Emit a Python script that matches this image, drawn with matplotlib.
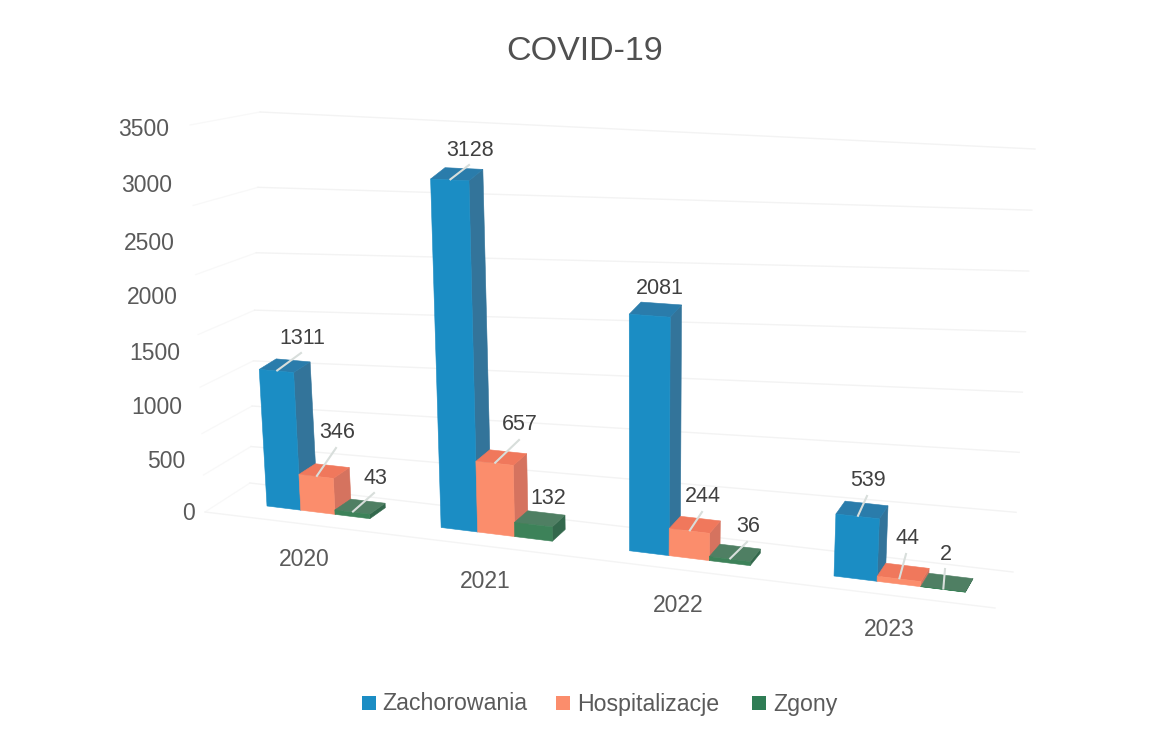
"""
COVID-19: zachorowania / hospitalizacje / zgony, wykres slupkowy 3D w perspektywie.
Wynik: out.png
"""

import numpy as np
import matplotlib
matplotlib.use('Agg')
import matplotlib.pyplot as plt
from matplotlib.patches import Rectangle

plt.rcParams['font.family'] = ['Liberation Sans', 'DejaVu Sans']

YEARS = ['2020', '2021', '2022', '2023']
ZACHOROWANIA = [1311, 3128, 2081, 539]
HOSPITALIZACJE = [346, 657, 244, 44]
ZGONY = [43, 132, 36, 2]
SERIES_NAMES = ['Zachorowania', 'Hospitalizacje', 'Zgony']
TICKS = [0, 500, 1000, 1500, 2000, 2500, 3000, 3500]
V_MAX = 3500

# kolory: przod, bok, gora
COLORS = [
    ('#1b8dc4', '#33749a', '#2a7cab'),
    ('#fb8d6c', '#d5735f', '#f0785c'),
    ('#3d8259', '#33684c', '#4f7f63'),
]
LEGEND_COLORS = ['#1b8dc4', '#fb8d6c', '#2f7d55']
BAR_W = 0.2

# pozycje tekstow w pikselach
LABEL_XY = [
    [(302, 338), (470, 150), (660, 289), (868, 481)],
    [(337, 433), (520, 425), (703, 497), (907, 539)],
    [(375, 478), (548, 499), (748, 527), (946, 554)],
]
NO_LEADER = {(1, 2), (2, 0)}  # (rok, seria)
YEAR_XY = [(304, 560), (485, 582), (678, 605), (889, 630)]
TICK_RIGHT = [195, 185, 182, 180, 178, 175, 172, 169]
TICK_Y = [514, 461, 407, 353, 298, 243, 186, 129]
LEGEND_SQUARES = [362, 556, 752]
LEGEND_TEXT_X = [382, 577, 773]
LEGEND_Y = 704


def homography(src, dst):
    """4 pary punktow -> macierz 3x3"""
    a, b = [], []
    for (u, v), (x, y) in zip(src, dst):
        a.append([u, v, 1, 0, 0, 0, -u * x, -v * x])
        a.append([0, 0, 0, u, v, 1, -u * y, -v * y])
        b.extend([x, y])
    return np.append(np.linalg.solve(np.array(a, float), np.array(b, float)), 1).reshape(3, 3)


def apply_h(h, u, v):
    p = h @ np.array([u, v, 1.0])
    return p[0] / p[2], p[1] / p[2]


CORNERS = [(0, 0), (3, 0), (0, V_MAX), (3, V_MAX)]
FRONT_H = homography(CORNERS, [(267, 506), (834, 576), (245.5, 128), (847, 151)])

WALL_CORNERS = [(0, 0), (1, 0), (0, V_MAX), (1, V_MAX)]
BACK_WALL_H = homography(WALL_CORNERS, [(250, 483), (1013, 572), (260, 112), (1035, 149)])
SIDE_WALL_H = homography(WALL_CORNERS, [(205, 512), (250, 483), (190, 125), (260, 112)])


def project(u, v, d=0.0):
    """u: os kategorii, v: wartosc, d: glebokosc slupka (0 przod, 1 tyl)"""
    x, y = apply_h(FRONT_H, u, v)
    return x + d * (17 - 2.6 * u), y + d * (-10.5 - 0.8 * u)


def draw_grid(ax):
    for tick in TICKS:
        side = [apply_h(SIDE_WALL_H, 0, tick), apply_h(SIDE_WALL_H, 1, tick)]
        back = [apply_h(SIDE_WALL_H, 1, tick), apply_h(BACK_WALL_H, 1, tick)]
        ax.plot([p[0] for p in side], [p[1] for p in side], color='#f8f8f8', lw=0.9, zorder=1)
        ax.plot([p[0] for p in back], [p[1] for p in back], color='#f3f3f3', lw=1.0, zorder=1)
    ax.plot([205, 995], [512, 608], color='#f4f4f4', lw=1.0, zorder=1)


def draw_bar(ax, u, value, colors):
    front = [project(u, 0), project(u + BAR_W, 0), project(u + BAR_W, value), project(u, value)]
    side = [project(u + BAR_W, 0), project(u + BAR_W, 0, 1), project(u + BAR_W, value, 1), project(u + BAR_W, value)]
    top = [project(u, value), project(u + BAR_W, value), project(u + BAR_W, value, 1), project(u, value, 1)]
    for poly, color in zip([side, top, front], [colors[1], colors[2], colors[0]]):
        ax.fill([p[0] for p in poly], [p[1] for p in poly], color=color, lw=0.4, zorder=3)


def main():
    fig = plt.figure(figsize=(11.52, 7.30), dpi=100)
    ax = fig.add_axes([0, 0, 1, 1])
    ax.set_xlim(0, 1152)
    ax.set_ylim(730, 0)
    ax.axis('off')

    draw_grid(ax)

    series = [ZACHOROWANIA, HOSPITALIZACJE, ZGONY]
    for i in range(len(YEARS)):
        for j, values in enumerate(series):
            draw_bar(ax, i + j * BAR_W, values[i], COLORS[j])

    # etykiety danych i linie odniesienia
    for j, values in enumerate(series):
        for i, value in enumerate(values):
            tx, ty = LABEL_XY[j][i]
            if (i, j) not in NO_LEADER:
                sx, sy = project(i + j * BAR_W + BAR_W / 2, value, 0.05)
                ax.plot([sx, tx - 1], [sy, ty + 15], color='#d8dedb', lw=1.5, zorder=4)
            ax.text(tx, ty, str(value), ha='center', va='center',
                    fontsize=15.5, color='#404040', zorder=5)

    for tick, right, y in zip(TICKS, TICK_RIGHT, TICK_Y):
        ax.text(right, y, str(tick), ha='right', va='center', fontsize=16.5, color='#5a5a5a')

    for year, (x, y) in zip(YEARS, YEAR_XY):
        ax.text(x, y, year, ha='center', va='center', fontsize=16.5, color='#5a5a5a')

    ax.text(585, 51, 'COVID-19', ha='center', va='center', fontsize=24.5, color='#505050')

    # legenda
    for name, color, sq_x, text_x in zip(SERIES_NAMES, LEGEND_COLORS, LEGEND_SQUARES, LEGEND_TEXT_X):
        ax.add_patch(Rectangle((sq_x, LEGEND_Y - 8), 14, 14, facecolor=color, edgecolor='none'))
        ax.text(text_x, LEGEND_Y, name, ha='left', va='center', fontsize=16.7, color='#5a5a5a')

    fig.savefig('out.png', dpi=100)
    plt.close(fig)


if __name__ == '__main__':
    main()
